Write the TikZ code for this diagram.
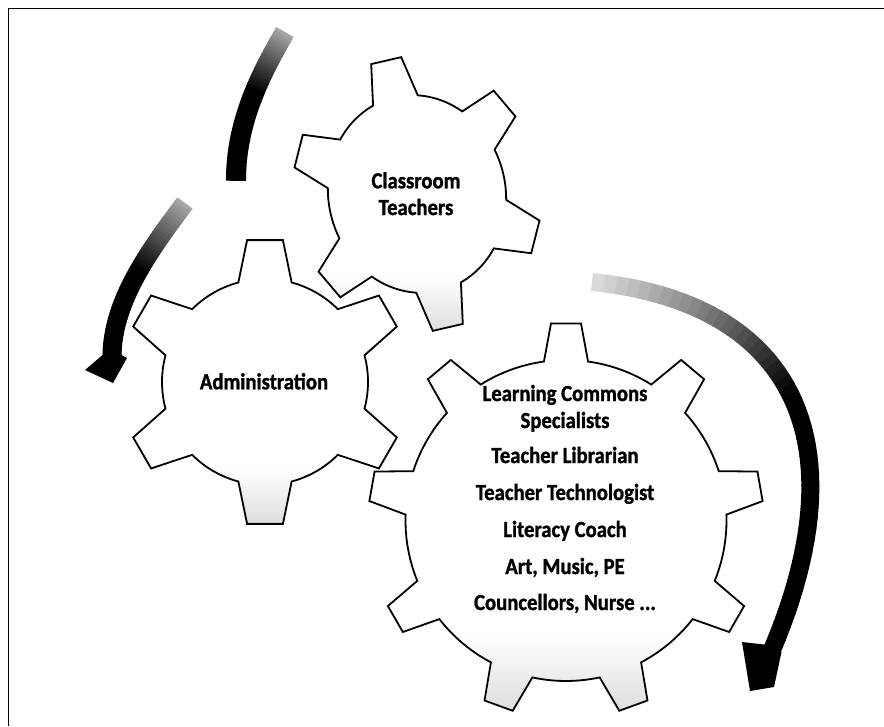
\documentclass[tikz,border=0pt]{standalone}
\usepackage{fontspec}
\newfontfamily\gearfont{Carlito}[FakeStretch=0.9, BoldFeatures={FakeBold=1.2}]
\usetikzlibrary{calc}
\pgfdeclareverticalshading{gearfade}{100bp}{color(0bp)=(black!13); color(25bp)=(black!13); color(35bp)=(white); color(100bp)=(white)}
% gear outline: #1 teeth, #2 first tooth angle, #3 tip radius, #4 tip half-angle, #5 root radius, #6 root half-angle
\newcommand\gearpath[6]{%
  ({#2-#6}:#5)
  \foreach \gk in {1,...,#1}{%
    -- ({#2+(\gk-1)*360/#1-#4}:#3)
    -- ({#2+(\gk-1)*360/#1+#4}:#3)
    -- ({#2+(\gk-1)*360/#1+#6}:#5)
    arc[start angle={#2+(\gk-1)*360/#1+#6}, end angle={#2+\gk*360/#1-#6}, radius=#5]
  } -- cycle}
% shaded curved shaft: #1 prefix, #2..#5 bezier points, #6 width, #7 start darkness, #8 fraction where black
\newcommand\gradshaft[8]{%
  \path (#2) .. controls (#3) and (#4) .. (#5)
    \foreach \gi [evaluate=\gi as \gt using \gi/48] in {0,...,48}{ coordinate[pos=\gt] (#1\gi) };
  \foreach \gi in {0,...,47}{%
    \pgfmathtruncatemacro\gj{\gi+1}%
    \pgfmathsetmacro\gc{min(100,#7+(100-#7)*\gi/(47*#8))}%
    \draw[line width=#6, line cap=butt, black!\gc] (#1\gi) -- ($(#1\gj)!-0.8pt!(#1\gi)$);
  }}
\begin{document}
\begin{tikzpicture}[x=1pt,y=-1pt,
  gearline/.style={draw=black, line width=1.8pt, line join=miter},
  gearshade/.style={shading=gearfade},
  ctgear/.style={shift={(417,194)}, rotate=13, xscale=0.86, yscale=0.965},
  adgear/.style={shift={(265,382)}},
  lcgear/.style={shift={(566,520.5)}},
  gtext/.style={font=\gearfont\bfseries\fontsize{23}{27}\selectfont, anchor=base, inner sep=0pt},
  headfill/.style={fill=black}]
\useasboundingbox (0,0) rectangle (884,726);

% frame (top and left edges)
\draw[line width=1.5pt] (8.5,726) -- (8.5,8.5) -- (884,8.5);

% gear bodies
\begin{scope}[ctgear]\shade[gearshade] \gearpath{6}{270}{143}{7.2}{103}{15};\end{scope}
\begin{scope}[adgear]\shade[gearshade] \gearpath{6}{270}{143}{7.2}{103}{15};\end{scope}
\begin{scope}[lcgear]\shade[gearshade] \gearpath{9}{270}{197.6}{4.35}{160.5}{7.9};\end{scope}
% gear outlines
\begin{scope}[ctgear]\draw[gearline] \gearpath{6}{270}{143}{7.2}{103}{15};\end{scope}
\begin{scope}[adgear]\draw[gearline] \gearpath{6}{270}{143}{7.2}{103}{15};\end{scope}
\begin{scope}[lcgear]\draw[gearline] \gearpath{9}{270}{197.6}{4.35}{160.5}{7.9};\end{scope}

% labels
\node[gtext] (ct1) at (416,188.3) {Classroom};
\node[gtext] (ct2) at (416,215) {Teachers};
\node[gtext] (ad) at (264,389.3) {Administration};
\node[gtext] (lc1) at (565,401) {Learning Commons};
\node[gtext] (lc2) at (565,428) {Specialists};
\node[gtext] (lc3) at (565,463) {Teacher Librarian};
\node[gtext] (lc4) at (565,500) {Teacher Technologist};
\node[gtext] (lc5) at (565,537) {Literacy Coach};
\node[gtext] (lc6) at (565,574) {Art, Music, PE};
\node[gtext] (lc7) at (565,610) {Councellors, Nurse ...};

% arrow 1 (top, no head)
\coordinate (a1s) at (285,32);
\coordinate (a1p) at (262.5,71);
\coordinate (a1q) at (236,120);
\coordinate (a1e) at (236,180);
\gradshaft{ua}{a1s}{a1p}{a1q}{a1e}{20pt}{35}{0.45}

% arrow 2 (left)
\coordinate (a2s) at (185,203);
\coordinate (a2p) at (149,251);
\coordinate (a2q) at (112,302);
\coordinate (a2e) at (112,357);
\gradshaft{la}{a2s}{a2p}{a2q}{a2e}{19pt}{35}{0.45}
\coordinate (a2hl) at (102.5,355);
\coordinate (a2bl) at (85,370);
\coordinate (a2tip) at (113,383);
\coordinate (a2br) at (127,358);
\coordinate (a2hr) at (121.5,355);
\fill[headfill] (a2hl) -- (a2bl) -- (a2tip) -- (a2br) -- (a2hr) -- cycle;

% arrow 3 (right)
\coordinate (a3s) at (592,282);
\coordinate (a3p) at (791,302);
\coordinate (a3q) at (861.7,438.4);
\coordinate (a3e) at (772,650);
\gradshaft{ra}{a3s}{a3p}{a3q}{a3e}{18pt}{15}{0.5}
\coordinate (a3hl) at (764,644.5);
\coordinate (a3bl) at (742,642);
\coordinate (a3tip) at (750,691);
\coordinate (a3br) at (774,687);
\coordinate (a3hr) at (781.5,652);
\fill[headfill] (a3hl) -- (a3bl) -- (a3tip) -- (a3br) -- (a3hr) -- cycle;
\end{tikzpicture}
\end{document}
